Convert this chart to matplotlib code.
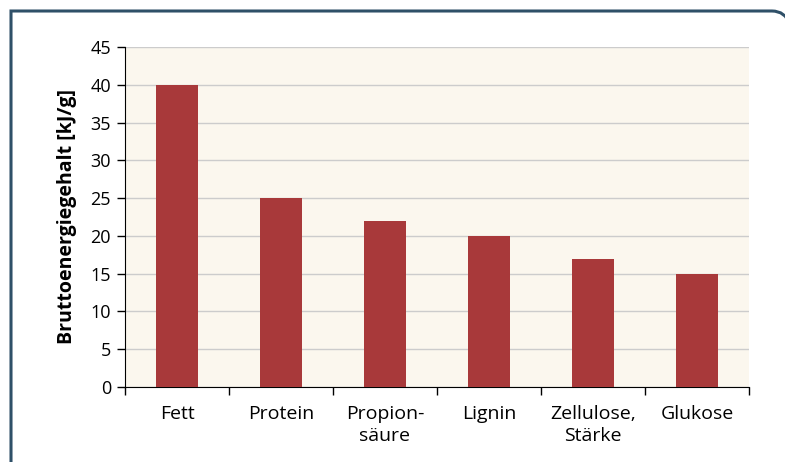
import numpy as np
import matplotlib.pyplot as plt
from matplotlib.path import Path
from matplotlib.patches import PathPatch

categories = ['Fett', 'Protein', 'Propion-\nsäure', 'Lignin', 'Zellulose,\nStärke', 'Glukose']
values = [40, 25, 22, 20, 17, 15]
yticks = [0, 5, 10, 15, 20, 25, 30, 35, 40, 45]

plt.rcParams['font.family'] = ['Open Sans', 'DejaVu Sans']

W, H = 785, 462
fig = plt.figure(figsize=(W / 100, H / 100), dpi=100)

# frame: square top-left corner, rounded top-right corner, runs off right and bottom
px = lambda x, y: (x / W, 1 - y / H)
verts = [px(11, 470), px(11, 11), px(772, 11), px(785, 11), px(790, 24)]
codes = [Path.MOVETO, Path.LINETO, Path.LINETO, Path.CURVE3, Path.CURVE3]
fig.patches.append(PathPatch(Path(verts, codes), transform=fig.transFigure, fill=False,
                             edgecolor='#2f5068', linewidth=2.2, clip_on=False))

ax = fig.add_axes([125 / W, (H - 387) / H, (749 - 125) / W, (387 - 47) / H])
ax.set_facecolor('#fbf7ee')

x = np.arange(len(categories))
ax.bar(x, values, width=0.4, color='#a8393a', zorder=3)

ax.set_xlim(-0.5, len(categories) - 0.5)
ax.set_ylim(0, 45)
ax.set_yticks(yticks)
ax.yaxis.grid(True, color='#cccccc', linewidth=1.0, zorder=0)

ax.set_xticks(x)
ax.set_xticklabels(categories, fontsize=14, linespacing=1.25, va='top')
ax.set_xticks(np.arange(-0.5, len(categories)), minor=True)
ax.tick_params(axis='x', which='major', length=0, pad=13)
ax.tick_params(axis='x', which='minor', length=6, width=1, direction='out', color='black')
ax.tick_params(axis='y', length=6, width=1, direction='out', labelsize=13, pad=4)

for side in ['top', 'right']:
    ax.spines[side].set_visible(False)
ax.spines['left'].set_color('black')
ax.spines['bottom'].set_color('black')

ax.set_ylabel('Bruttoenergiegehalt [kJ/g]', fontsize=14, fontweight='bold', labelpad=10)

fig.savefig('out.png', dpi=100)
